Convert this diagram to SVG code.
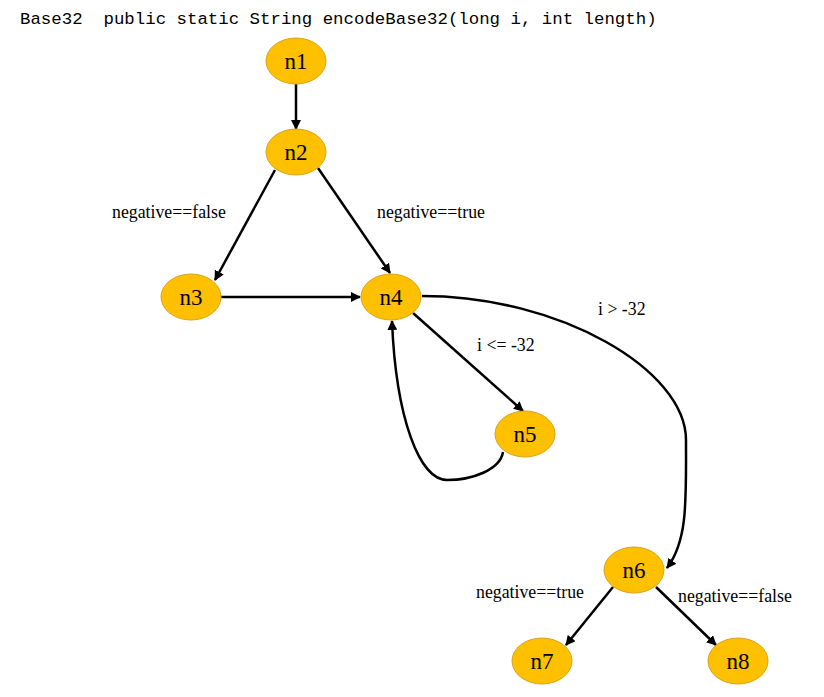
<svg xmlns="http://www.w3.org/2000/svg" width="824" height="697" viewBox="0 0 824 697">
<style>
.node ellipse{fill:#FFC000;stroke:#D9A21B;stroke-width:1}
.node text{font-family:"Liberation Serif","Times New Roman",serif;font-size:23px;fill:#000;text-anchor:middle}
.edge{fill:none;stroke:#000;stroke-width:2.5;marker-end:url(#arr)}
.lbl{font-family:"Liberation Serif","Times New Roman",serif;font-size:17.8px;fill:#000}
.title{font-family:"Liberation Mono","DejaVu Sans Mono",monospace;font-size:17.4px;fill:#000}
</style>
<defs>
<marker id="arr" viewBox="0 0 10 10" refX="9" refY="5" markerWidth="4" markerHeight="4" orient="auto" markerUnits="strokeWidth">
<path d="M0,0 L10,5 L0,10 z" fill="#000"/>
</marker>
</defs>
<rect width="824" height="697" fill="#fff"/>
<text class="title" x="20" y="24" xml:space="preserve">Base32  public static String encodeBase32(long i, int length)</text>
<g id="connectors">
<path class="edge" d="M296,84 L296,129"/>
<path class="edge" d="M275,170 L215,280"/>
<path class="edge" d="M318,168 L390,273"/>
<path class="edge" d="M220,297 L360,297"/>
<path class="edge" d="M413,313 L523,411"/>
<path class="edge" d="M503,452 C500,470 472,480 447,480 C420,480 396,420 392,321"/>
<path class="edge" d="M422,296 C560,296 686,370 686,440 C686,500 688,540 667,568"/>
<path class="edge" d="M613,587 L566,645"/>
<path class="edge" d="M656,587 L716,645"/>
<text class="lbl" x="112" y="218">negative==false</text>
<text class="lbl" x="377" y="218">negative==true</text>
<text class="lbl" x="598" y="315">i &gt; -32</text>
<text class="lbl" x="477" y="351">i &lt;= -32</text>
<text class="lbl" x="476" y="598">negative==true</text>
<text class="lbl" x="678" y="602">negative==false</text>
</g>
<g id="n1" class="node"><ellipse cx="296" cy="61" rx="30" ry="23"/><text x="296" y="69">n1</text></g>
<g id="n2" class="node"><ellipse cx="296" cy="152" rx="30" ry="23"/><text x="296" y="160">n2</text></g>
<g id="n3" class="node"><ellipse cx="191" cy="297" rx="30" ry="23"/><text x="191" y="305">n3</text></g>
<g id="n4" class="node"><ellipse cx="391" cy="297" rx="30" ry="23"/><text x="391" y="305">n4</text></g>
<g id="n5" class="node"><ellipse cx="525" cy="434" rx="30" ry="23"/><text x="525" y="442">n5</text></g>
<g id="n6" class="node"><ellipse cx="634" cy="570" rx="30" ry="23"/><text x="634" y="578">n6</text></g>
<g id="n7" class="node"><ellipse cx="542" cy="661" rx="30" ry="23"/><text x="542" y="669">n7</text></g>
<g id="n8" class="node"><ellipse cx="738" cy="661" rx="30" ry="23"/><text x="738" y="669">n8</text></g>
</svg>
